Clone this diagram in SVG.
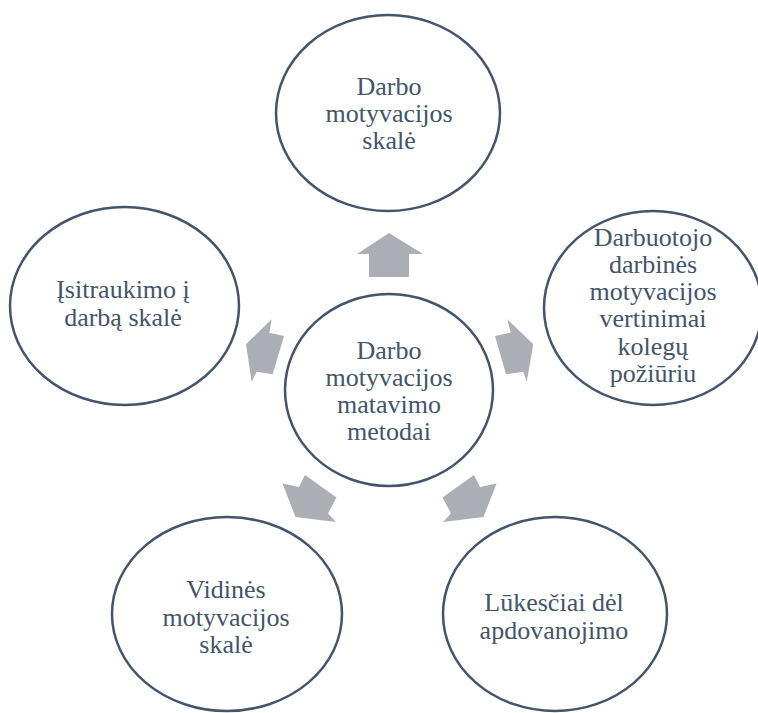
<svg xmlns="http://www.w3.org/2000/svg" width="758" height="713" viewBox="0 0 758 713">
<style>
.c{fill:#FFFFFF;stroke:#44546A;stroke-width:2.5}
.t{font-family:'Liberation Serif','DejaVu Serif',serif;font-size:26px;fill:#44546A;text-anchor:middle}
.a{fill:#ABAEB5;stroke:none}
</style>
<rect width="758" height="713" fill="#FFFFFF"/>
<g id="connectors">
<polygon class="a" points="389,233 423,254 409,254 409,277 369,277 369,254 357,254"/>
<polygon class="a" points="533.3,344.3 526.7,381.7 523.3,371.7 506,374.3 495,336 510.7,332.7 507.3,319.3"/>
<polygon class="a" points="246,344.3 271.7,319.3 269.3,332.7 284,336 272.7,374.3 256.7,371.7 251.7,381.7"/>
<polygon class="a" points="483.5,517 496.5,483.5 480,487 474,475 442.5,497.5 451,513.5 443,522"/>
<polygon class="a" points="295.5,517 282.5,483.5 299,487 305,475 336.5,497.5 328,513.5 336,522"/>
</g>
<g id="center">
<ellipse class="c" cx="389" cy="390" rx="104" ry="96"/>
<text class="t" x="389" y="359">Darbo</text>
<text class="t" x="389" y="386">motyvacijos</text>
<text class="t" x="389" y="413">matavimo</text>
<text class="t" x="389" y="440">metodai</text>
</g>
<g id="top">
<ellipse class="c" cx="388" cy="113" rx="112" ry="98"/>
<text class="t" x="389" y="95">Darbo</text>
<text class="t" x="389" y="122">motyvacijos</text>
<text class="t" x="389" y="149">skalė</text>
</g>
<g id="right">
<ellipse class="c" cx="653" cy="308" rx="109" ry="97"/>
<text class="t" x="653" y="246">Darbuotojo</text>
<text class="t" x="653" y="273">darbinės</text>
<text class="t" x="653" y="300">motyvacijos</text>
<text class="t" x="653" y="327">vertinimai</text>
<text class="t" x="653" y="355">kolegų</text>
<text class="t" x="653" y="382">požiūriu</text>
</g>
<g id="left">
<ellipse class="c" cx="124.5" cy="306" rx="114.5" ry="99"/>
<text class="t" x="123" y="298">Įsitraukimo į</text>
<text class="t" x="123" y="326">darbą skalė</text>
</g>
<g id="bottom-left">
<ellipse class="c" cx="227" cy="614" rx="115" ry="97"/>
<text class="t" x="226" y="598">Vidinės</text>
<text class="t" x="226" y="626">motyvacijos</text>
<text class="t" x="226" y="653">skalė</text>
</g>
<g id="bottom-right">
<ellipse class="c" cx="555" cy="614" rx="112" ry="97"/>
<text class="t" x="554" y="611">Lūkesčiai dėl</text>
<text class="t" x="554" y="639">apdovanojimo</text>
</g>
</svg>
